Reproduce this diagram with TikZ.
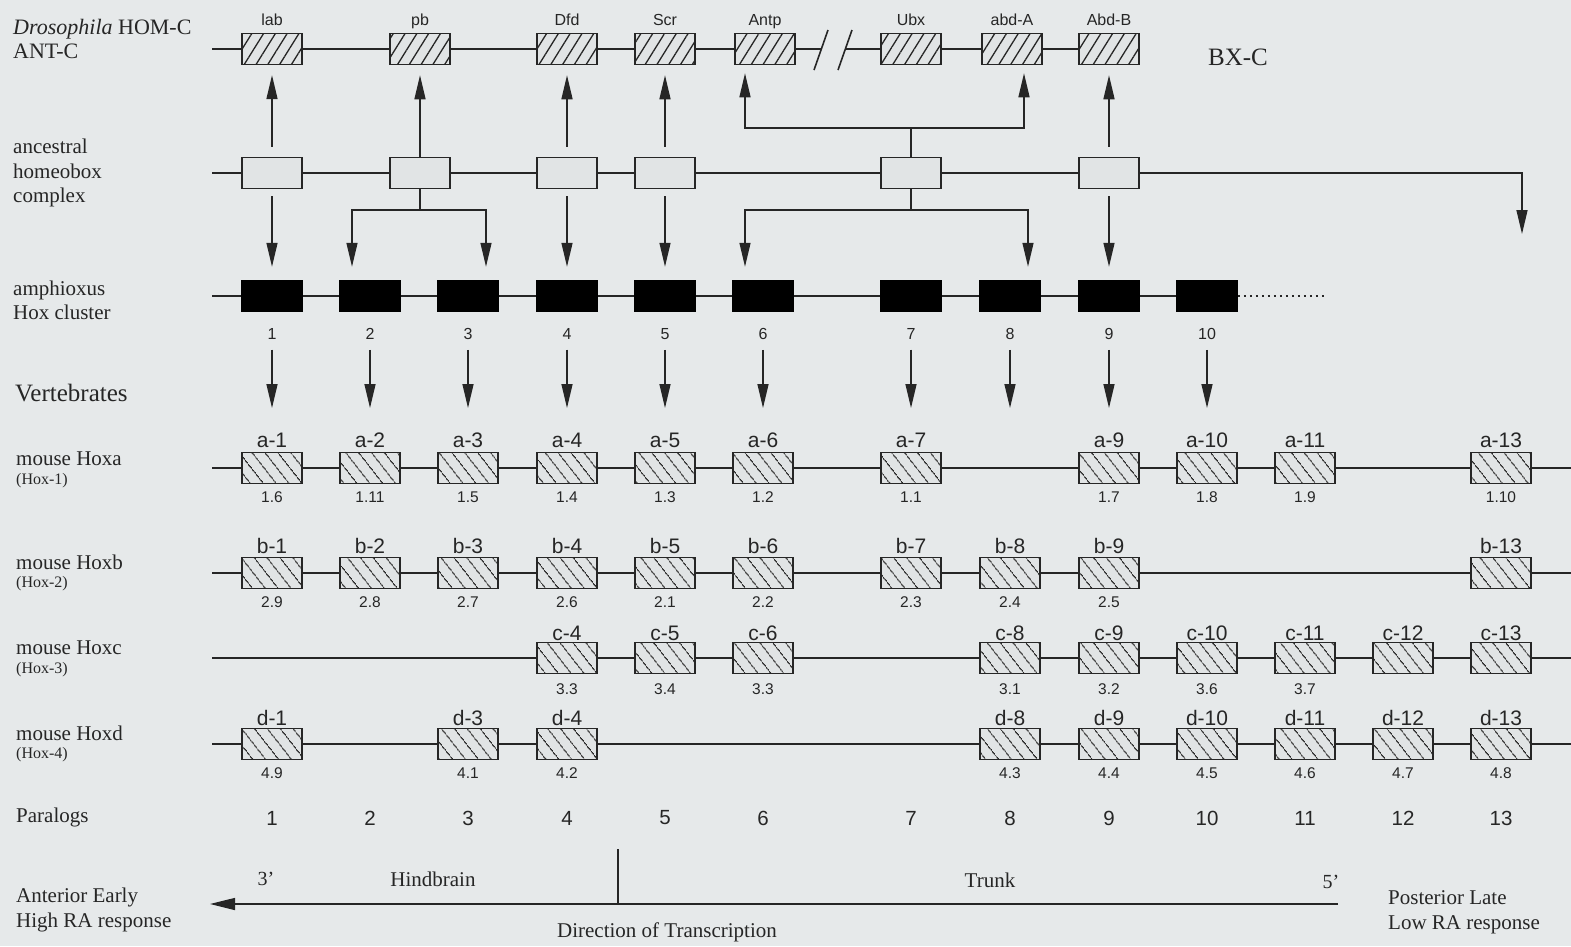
\documentclass[tikz,border=0pt]{standalone}
\usepackage{fontspec}
\setmainfont{Liberation Serif}
\newfontfamily\hv{Liberation Sans}
\usetikzlibrary{arrows.meta,patterns.meta}
\definecolor{bg}{RGB}{230,233,234}
\definecolor{ink}{RGB}{38,38,38}
\definecolor{boxbg}{RGB}{225,228,229}
\pgfdeclarelayer{paper}
\pgfdeclarelayer{wire}
\pgfsetlayers{paper,wire,main}
\tikzset{
 ln/.style={draw=ink,line width=1.4pt},
 arr/.style={ln,-{Triangle[length=24pt,width=11pt]}},
 gene/.style={draw=ink,line width=1.5pt,minimum width=60pt,minimum height=31pt,inner sep=0pt},
 dbox/.style={gene,preaction={fill=boxbg},pattern={Lines[angle=58,distance=10pt,line width=1.3pt]},pattern color=ink},
 abox/.style={gene,fill=boxbg},
 hbox/.style={gene,fill=black,draw=black},
 mbox/.style={gene,preaction={fill=boxbg},pattern={Lines[angle=-52,distance=10.5pt,line width=1.3pt]},pattern color=ink},
 serif/.style={text=ink,inner sep=0pt,font=\fontsize{21}{25}\selectfont},
 lab/.style={serif,anchor=west,align=left},
 small/.style={text=ink,inner sep=0pt,anchor=west,font=\fontsize{16}{18}\selectfont},
 dl/.style={text=ink,inner sep=0pt,font=\hv\fontsize{16}{18}\selectfont},
 ml/.style={text=ink,inner sep=0pt,font=\hv\fontsize{21}{24}\selectfont},
 mn/.style={text=ink,inner sep=0pt,font=\hv\fontsize{15.5}{18}\selectfont},
 pn/.style={text=ink,inner sep=0pt,font=\hv\fontsize{20.5}{22}\selectfont},
}
\begin{document}
\begin{tikzpicture}[x=1pt,y=-1pt]
\useasboundingbox (0,0) rectangle (1571,946);
\begin{pgfonlayer}{paper}
\fill[bg] (0,0) rectangle (1571,946);
\end{pgfonlayer}

% ---------- left labels ----------
\node[lab,font=\fontsize{22}{24}\selectfont] (tDro) at (13,39) {\textit{Drosophila} HOM-C\\ANT-C};
\node[lab,font=\fontsize{21}{24.5}\selectfont] (tAnc) at (13,173) {ancestral\\homeobox\\complex};
\node[lab,font=\fontsize{21}{24}\selectfont] (tAmp) at (13,300) {amphioxus\\Hox cluster};
\node[lab,font=\fontsize{25}{28}\selectfont] (tVer) at (15,393) {Vertebrates};
\node[lab] (tHa) at (16,459) {mouse Hoxa};
\node[small] (tHa2) at (16,481) {(Hox-1)};
\node[lab] (tHb) at (16,562) {mouse Hoxb};
\node[small] (tHb2) at (16,584) {(Hox-2)};
\node[lab] (tHc) at (16,648) {mouse Hoxc};
\node[small] (tHc2) at (16,670) {(Hox-3)};
\node[lab] (tHd) at (16,733) {mouse Hoxd};
\node[small] (tHd2) at (16,755) {(Hox-4)};
\node[lab] (tPar) at (16,817) {Paralogs};
\node[serif,font=\fontsize{25}{28}\selectfont] (tBXC) at (1238,57) {BX-C};

% ---------- Drosophila row ----------
\foreach \x/\n/\t in {272/lab/lab,420/pb/pb,567/Dfd/Dfd,665/Scr/Scr,765/Antp/Antp,911/Ubx/Ubx,1012/abdA/abd-A,1109/AbdB/Abd-B}{
  \node[dbox] (D\n) at (\x,49) {};
  \node[dl,anchor=base] (D\n-t) at (\x,25) {\t};
}
\coordinate (d0) at (212,49);
\coordinate (dA) at (821,49);
\coordinate (dB) at (845,49);
\begin{pgfonlayer}{wire}
\draw[ln] (d0) -- (dA);
\draw[ln] (dB) -- (DAbdB);
\end{pgfonlayer}
\draw[ln,line width=1.6pt] (814,70) -- (828,30);
\draw[ln,line width=1.6pt] (838,70) -- (852,30);

% ---------- ancestral row ----------
\foreach \x/\n in {272/lab,420/pb,567/Dfd,665/Scr,911/Ubx,1109/AbdB}{
  \node[abox] (A\n) at (\x,173) {};
}
\coordinate (a0) at (212,173);
\coordinate (aC) at (1522,173);
\coordinate (aE) at (1522,234);
\begin{pgfonlayer}{wire}
\draw[arr] (a0) -- (aC) -- (aE);
\end{pgfonlayer}
\foreach \n in {lab,Dfd,Scr,AbdB}{
  \draw[arr] ([yshift=10pt]A\n.north) -- ([yshift=-10pt]D\n.south);
}
\draw[arr] (Apb.north) -- ([yshift=-10pt]Dpb.south);
\coordinate (uT) at (911,128);
\draw[ln] (AUbx.north) -- (uT);
\draw[arr] (uT) -| ([xshift=-20pt,yshift=-8pt]DAntp.south);
\draw[arr] (uT) -| ([xshift=12pt,yshift=-8pt]DabdA.south);

% ---------- amphioxus row ----------
\foreach \x [count=\i] in {272,370,468,567,665,763,911,1010,1109,1207}{
  \node[hbox] (H\i) at (\x,296) {};
  \node[dl] (N\i) at (\x,334) {\i};
  \coordinate (V\i) at (\x,408);
  \draw[arr] ([yshift=-10pt]N\i.south) -- (V\i);
}
\coordinate (h0) at (212,296);
\coordinate (hE) at (1325,296);
\begin{pgfonlayer}{wire}
\draw[ln] (h0) -- (H10);
\end{pgfonlayer}
\draw[draw=ink,line width=1.2pt,dash pattern=on 2pt off 4pt] (H10.east) -- (hE);

\foreach \n/\k in {lab/1,Dfd/4,Scr/5,AbdB/9}{
  \draw[arr] ([yshift=-7pt]A\n.south) -- ([yshift=13pt]H\k.north);
}
\coordinate (pB) at (420,210);
\draw[ln] (Apb.south) -- (pB);
\draw[arr] (pB) -| ([xshift=-18pt,yshift=13pt]H2.north);
\draw[arr] (pB) -| ([xshift=18pt,yshift=13pt]H3.north);
\coordinate (uB) at (911,210);
\draw[ln] (AUbx.south) -- (uB);
\draw[arr] (uB) -| ([xshift=-18pt,yshift=13pt]H6.north);
\draw[arr] (uB) -| ([xshift=18pt,yshift=13pt]H8.north);

% ---------- mouse Hoxa ----------
\foreach \x/\l/\n [count=\i] in {272/a-1/1.6,370/a-2/1.11,468/a-3/1.5,567/a-4/1.4,665/a-5/1.3,763/a-6/1.2,911/a-7/1.1,1109/a-9/1.7,1207/a-10/1.8,1305/a-11/1.9,1501/a-13/1.10}{
  \node[mbox] (Ma\i) at (\x,468) {};
  \node[ml] (Ma\i-t) at (\x,440) {\l};
  \node[mn] (Ma\i-n) at (\x,497) {\n};
}
\coordinate (ma0) at (212,468);
\coordinate (maE) at (1571,468);
\begin{pgfonlayer}{wire}\draw[ln] (ma0) -- (maE);\end{pgfonlayer}

% ---------- mouse Hoxb ----------
\foreach \x/\l/\n [count=\i] in {272/b-1/2.9,370/b-2/2.8,468/b-3/2.7,567/b-4/2.6,665/b-5/2.1,763/b-6/2.2,911/b-7/2.3,1010/b-8/2.4,1109/b-9/2.5}{
  \node[mbox] (Mb\i) at (\x,573) {};
  \node[ml] (Mb\i-t) at (\x,546) {\l};
  \node[mn] (Mb\i-n) at (\x,602) {\n};
}
\node[mbox] (Mb13) at (1501,573) {};
\node[ml] (Mb13-t) at (1501,546) {b-13};
\coordinate (mb0) at (212,573);
\coordinate (mbE) at (1571,573);
\begin{pgfonlayer}{wire}\draw[ln] (mb0) -- (mbE);\end{pgfonlayer}

% ---------- mouse Hoxc ----------
\foreach \x/\l/\n [count=\i] in {567/c-4/3.3,665/c-5/3.4,763/c-6/3.3,1010/c-8/3.1,1109/c-9/3.2,1207/c-10/3.6,1305/c-11/3.7}{
  \node[mbox] (Mc\i) at (\x,658) {};
  \node[ml] (Mc\i-t) at (\x,633) {\l};
  \node[mn] (Mc\i-n) at (\x,689) {\n};
}
\foreach \x/\l [count=\i] in {1403/c-12,1501/c-13}{
  \node[mbox] (Mcx\i) at (\x,658) {};
  \node[ml] (Mcx\i-t) at (\x,633) {\l};
}
\coordinate (mc0) at (212,658);
\coordinate (mcE) at (1571,658);
\begin{pgfonlayer}{wire}\draw[ln] (mc0) -- (mcE);\end{pgfonlayer}

% ---------- mouse Hoxd ----------
\foreach \x/\l/\n [count=\i] in {272/d-1/4.9,468/d-3/4.1,567/d-4/4.2,1010/d-8/4.3,1109/d-9/4.4,1207/d-10/4.5,1305/d-11/4.6,1403/d-12/4.7,1501/d-13/4.8}{
  \node[mbox] (Md\i) at (\x,744) {};
  \node[ml] (Md\i-t) at (\x,718) {\l};
  \node[mn] (Md\i-n) at (\x,773) {\n};
}
\coordinate (md0) at (212,744);
\coordinate (mdE) at (1571,744);
\begin{pgfonlayer}{wire}\draw[ln] (md0) -- (mdE);\end{pgfonlayer}

% ---------- paralogs ----------
\foreach \x [count=\i] in {272,370,468,567,665,763,911,1010,1109,1207,1305,1403,1501}{
  \node[pn] (P\i) at (\x,818) {\i};
}

% ---------- bottom ----------
\coordinate (tk0) at (618,849);
\coordinate (tk1) at (618,904);
\draw[ln] (tk0) -- (tk1);
\coordinate (dirR) at (1338,904);
\coordinate (dirL) at (210,904);
\draw[ln,-{Triangle[length=25pt,width=12pt]}] (dirR) -- (dirL);
\node[serif,font=\fontsize{20}{24}\selectfont] (t3) at (266,879) {3'};
\node[serif] (tHind) at (433,879) {Hindbrain};
\node[serif] (tTrunk) at (990,880) {Trunk};
\node[serif,font=\fontsize{20}{24}\selectfont] (t5) at (1331,882) {5'};
\node[serif] (tDir) at (667,932) {Direction of Transcription};
\node[lab] (tAnt) at (16,910) {Anterior Early\\High RA response};
\node[lab] (tPost) at (1388,912) {Posterior Late\\Low RA response};
\end{tikzpicture}
\end{document}
